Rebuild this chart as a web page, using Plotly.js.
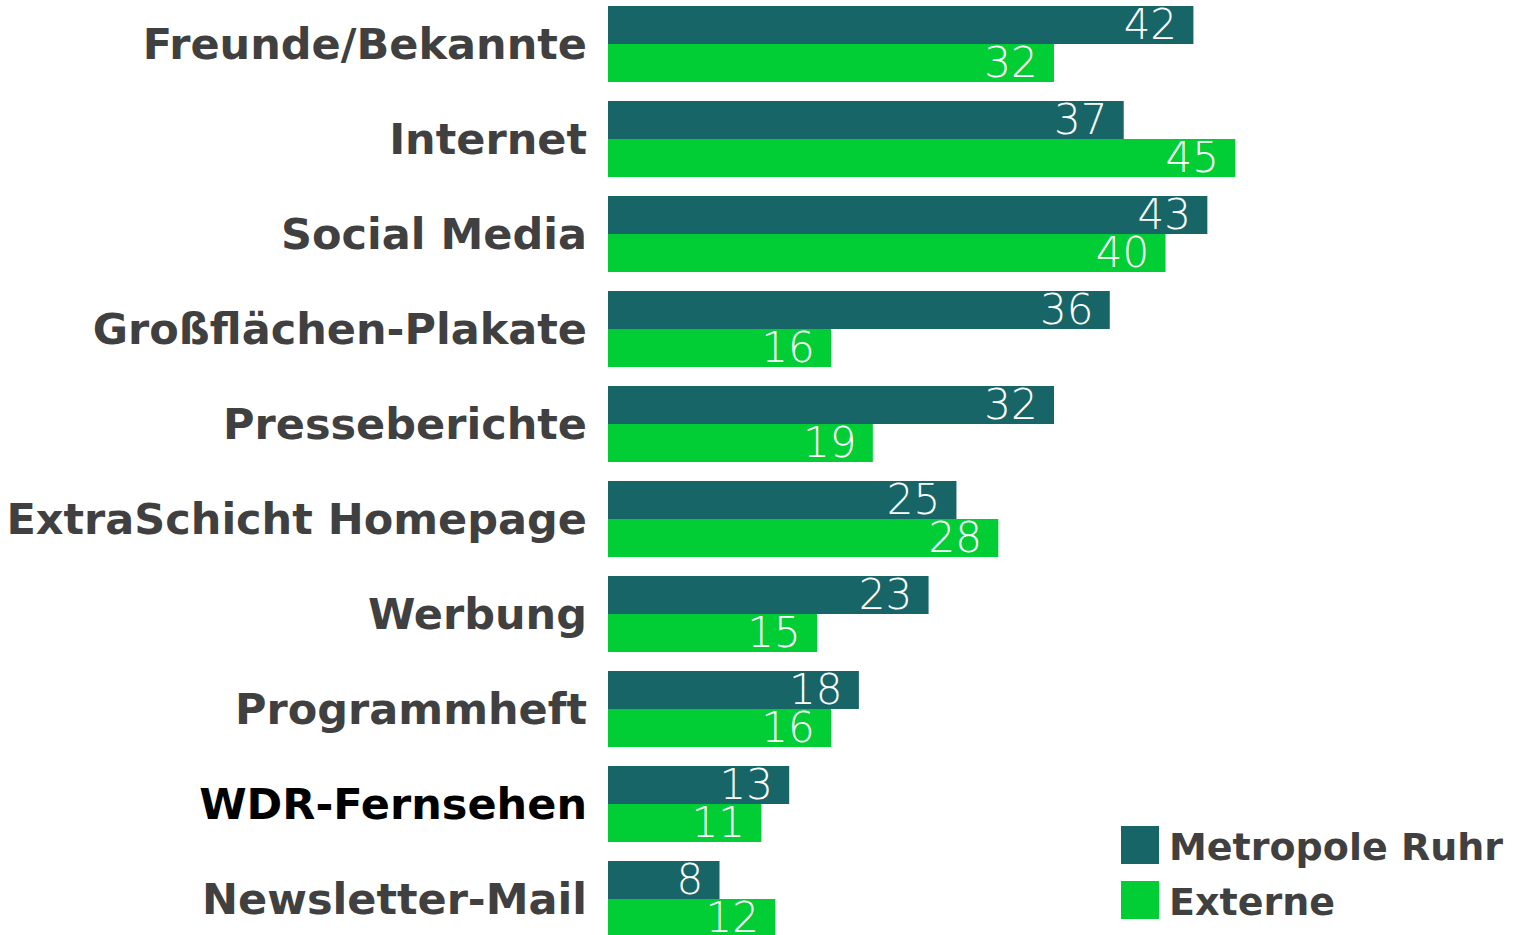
<!DOCTYPE html>
<html>
<head>
<meta charset="utf-8">
<script src="https://cdn.plot.ly/plotly-3.0.1.min.js"></script>
<style>
  html, body { margin: 0; padding: 0; background: white; }
  #chart { width: 1518px; height: 935px; }
</style>
</head>
<body>
<div id="chart"></div>
<script>
const categories = ["Freunde/Bekannte", "Internet", "Social Media", "Großflächen-Plakate", "Presseberichte",
  "ExtraSchicht Homepage", "Werbung", "Programmheft", "WDR-Fernsehen", "Newsletter-Mail"];
const metropoleRuhr = [42, 37, 43, 36, 32, 25, 23, 18, 13, 8];
const externe = [32, 45, 40, 16, 19, 28, 15, 16, 11, 12];
const seriesNames = ["Metropole Ruhr", "Externe"];
const seriesColors = ["#176567", "#00CE34"];

// WDR-Fernsehen is printed in black in the original
const tickText = categories.map(c => c === "WDR-Fernsehen" ? `<span style="color:#000000">${c}</span>` : c);

const valueFont = { family: "DejaVu Sans", weight: 200, size: 42, color: "white" };

function barTrace(vals, i) {
  return {
    type: "bar",
    orientation: "h",
    name: seriesNames[i],
    y: categories,
    x: vals,
    marker: { color: seriesColors[i], line: { width: 0 } },
    text: vals.map(v => v + "\u00a0"),
    textposition: "inside",
    insidetextanchor: "end",
    textangle: 0,
    constraintext: "none",
    insidetextfont: valueFont,
    cliponaxis: true,
    hoverinfo: "skip"
  };
}

const traces = [barTrace(metropoleRuhr, 0), barTrace(externe, 1)];

// legend drawn as big squares + labels like the original
const legendShapes = [];
const legendNotes = [];
seriesNames.forEach((name, i) => {
  const top = 826 + i * 55;
  legendShapes.push({
    type: "rect", xref: "paper", yref: "paper",
    x0: (1121 - 608) / 906, x1: (1159 - 608) / 906,
    y0: 1 - (top + 38) / 935, y1: 1 - top / 935,
    fillcolor: seriesColors[i], line: { width: 0 }
  });
  legendNotes.push({
    xref: "paper", yref: "paper",
    x: (1167 - 608) / 906, y: 1 - (top + 21) / 935,
    xanchor: "left", yanchor: "middle",
    text: name, showarrow: false,
    font: { family: "DejaVu Sans", weight: 700, size: 38, color: "#404040" }
  });
});

const layout = {
  width: 1518,
  height: 935,
  margin: { l: 608, r: 4, t: 0, b: 0, pad: 0 },
  paper_bgcolor: "white",
  plot_bgcolor: "white",
  barmode: "group",
  bargap: 0.2,
  bargroupgap: 0,
  showlegend: false,
  xaxis: {
    range: [0, 65],
    visible: false,
    showgrid: false,
    zeroline: false,
    fixedrange: true
  },
  yaxis: {
    type: "category",
    categoryorder: "array",
    categoryarray: categories,
    range: [9.379, -0.463],
    tickvals: categories,
    ticktext: tickText,
    ticks: "",
    ticklabelstandoff: 20,
    showgrid: false,
    zeroline: false,
    showline: false,
    tickfont: { family: "DejaVu Sans", weight: 700, size: 43, color: "#404040" },
    fixedrange: true
  },
  shapes: legendShapes,
  annotations: legendNotes
};

Plotly.newPlot("chart", traces, layout, { displayModeBar: false, staticPlot: true });
</script>
</body>
</html>
